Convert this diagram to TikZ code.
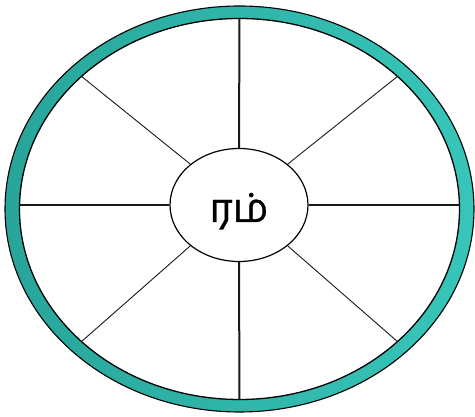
\documentclass[tikz,border=0pt]{standalone}
\usepackage{fontspec}
\newfontfamily\tamilfont[Script=Tamil, FakeBold=0.8]{Hind Madurai}
\usepackage{tikz}
\usetikzlibrary{shapes.geometric}
\definecolor{ringdark}{RGB}{28,128,120}
\definecolor{ringleft}{RGB}{40,165,154}
\definecolor{ringlight}{RGB}{56,198,186}

\begin{document}
\begin{tikzpicture}[x=1pt, y=1pt,
  rim/.style={ellipse, minimum width=440pt, minimum height=381pt, inner sep=0pt},
  core/.style={draw, ellipse, fill=white, line width=1.2pt, minimum width=138pt, minimum height=113pt, inner sep=0pt, font=\tamilfont\fontsize{40}{40}\selectfont},
  spoke/.style={line width=2pt, black!90},
  diag/.style={line width=0.9pt, black!90}]
\useasboundingbox (0,0) rectangle (475,417);
% outer ring
\shade[even odd rule, left color=ringleft, middle color=ringdark, right color=ringlight]
  (239.5,208) ellipse [x radius=234.5, y radius=203] (239.5,208) ellipse [x radius=220, y radius=190.5];
\draw[line width=1.1pt] (239.5,208) ellipse [x radius=234.5, y radius=203];
\node[rim, draw, line width=1.3pt] (rim) at (239.5,208) {};
\node[core] (c) at (239,212) {\raisebox{-17pt}[0pt][0pt]{ரம்}};
\draw[spoke] (c.north) -- (rim.north); \draw[spoke] (c.south) -- (rim.south);
\draw[spoke] (c.west) -- (c.west -| rim.west); \draw[spoke] (c.east) -- (c.east -| rim.east);
\draw[diag] (c.140) -- (rim.140); \draw[diag] (c.40) -- (rim.40);
\draw[diag] (c.220) -- (rim.220); \draw[diag] (c.320) -- (rim.320);
\end{tikzpicture}
\end{document}
